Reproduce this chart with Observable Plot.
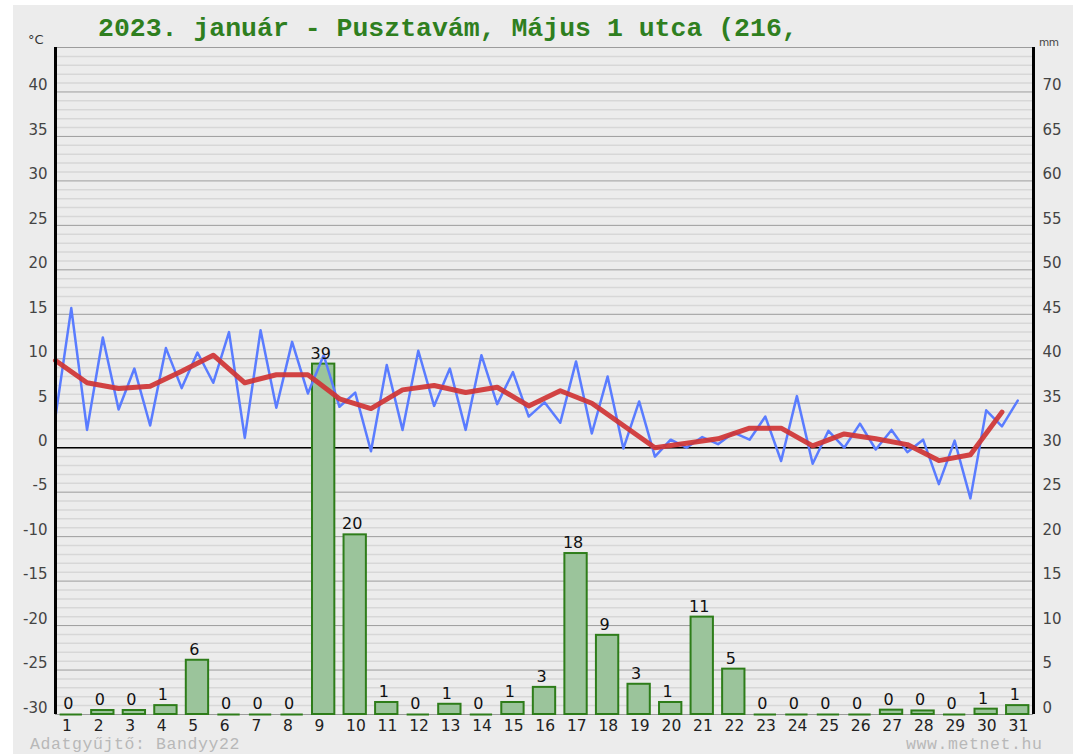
<!DOCTYPE html>
<html>
<head>
<meta charset="utf-8">
<script src="https://cdn.jsdelivr.net/npm/d3@7"></script>
<script src="https://cdn.jsdelivr.net/npm/@observablehq/plot@0.6"></script>
<style>
  html, body { margin: 0; padding: 0; background: #ffffff; width: 1080px; height: 754px; overflow: hidden; }
  #panel { position: absolute; left: 13px; top: 5px; width: 1060px; height: 749px; background: #ececec; }
  .abs { position: absolute; white-space: nowrap; }
  #title { left: 98px; top: 15.7px; font: bold 26.5px/26.5px "Liberation Mono", monospace; color: #2f7f1f; }
  #unitL { left: 28px; top: 33px; font: 13px/13px "DejaVu Sans", sans-serif; color: #333; }
  #unitR { left: 1039px; top: 37px; font: 10.5px/10.5px "DejaVu Sans", sans-serif; color: #444; letter-spacing: -0.5px; }
  #chart { position: absolute; left: 0; top: 40px; }
  .foot { top: 738.6px; height: 11px; font: 16.5px/11px "Liberation Mono", monospace; letter-spacing: 0.6px; color: #b8b8b8; }
  #footL { left: 30px; }
  #footR { left: 906px; }
</style>
</head>
<body>
<div id="panel"></div>
<div id="title" class="abs">2023. január - Pusztavám, Május 1 utca (216,</div>
<div id="unitL" class="abs">°C</div>
<div id="unitR" class="abs">mm</div>
<div id="chart"></div>
<div id="footL" class="abs foot">Adatgyűjtő: Bandyy22</div>
<div id="footR" class="abs foot">www.metnet.hu</div>
<script>
// Days of the month
const days = d3.range(1, 32);

// Daily precipitation (mm)
const precip = [0, 0.45, 0.45, 1.0, 6.1, 0, 0, 0, 39.4, 20.2,
                1.35, 0, 1.15, 0, 1.35, 3.05, 18.1, 8.9, 3.4, 1.35,
                10.95, 5.1, 0, 0, 0, 0, 0.49, 0.4, 0, 0.6, 1.0];

// Temperature readings, two per day (°C)
const tempReadings = [3.5, 15.7, 2.0, 12.4, 4.3, 8.9, 2.5, 11.2, 6.7, 10.7,
                      7.3, 13.0, 1.1, 13.2, 4.5, 11.9, 6.1, 10.4, 4.6, 6.2,
                      -0.4, 9.3, 2.0, 10.9, 4.7, 8.9, 2.0, 10.4, 4.9, 8.5,
                      3.5, 5.1, 2.8, 9.7, 1.6, 8.0, -0.1, 5.2, -1.0, 0.9,
                      0.0, 1.2, 0.4, 1.7, 0.9, 3.5, -1.5, 5.8, -1.8, 1.9,
                      0.0, 2.7, -0.2, 2.0, -0.5, 0.9, -4.1, 0.8, -5.7, 4.2,
                      2.4, 5.3];

// Daily mean temperature (°C)
const tempMean = [9.8, 7.3, 6.65, 6.9, 8.6, 10.4, 7.3, 8.2, 8.2, 5.5,
                  4.4, 6.5, 7.0, 6.2, 6.8, 4.7, 6.4, 5.0, 2.5, 0.0,
                  0.5, 1.0, 2.2, 2.2, 0.2, 1.55, 1.0, 0.35, -1.45, -0.8,
                  4.0];

// Axis ticks (°C on the left; mm on the right = °C + 30)
const yTicks = d3.range(-30, 41, 5);
const majorGrid = d3.range(-30, 46, 5);
const minorGrid = d3.range(-30, 46).filter(v => v % 5 !== 0);
const mmOffset = 30;

const precipData = days.map((d, i) => ({day: d, mm: precip[i]}));
const readings = tempReadings.map((t, i) => ({pos: i / 2, t}));
const means = tempMean.map((t, i) => ({pos: i, t}));

const barInset = 0.146;

const chart = Plot.plot({
  width: 1080,
  height: 696,
  marginLeft: 55,
  marginRight: 47,
  marginTop: 7,
  marginBottom: 22,
  x: {domain: [0, 31], axis: null},
  y: {domain: [-30, 45], axis: null},
  style: {background: "transparent", overflow: "visible", fontFamily: "DejaVu Sans, sans-serif"},
  marks: [
    Plot.ruleY(minorGrid, {stroke: "#d7d7d7", strokeWidth: 1.5}),
    Plot.ruleY(majorGrid, {stroke: "#9c9c9c", strokeWidth: 1}),
    Plot.ruleY([0], {stroke: "#000", strokeWidth: 1.5}),
    Plot.rect(precipData.filter(d => d.mm > 0), {
      x1: d => d.day - 1 + barInset, x2: d => d.day - barInset,
      y1: -mmOffset, y2: d => d.mm - mmOffset,
      fill: "#9bc49b", stroke: "#2e7d1a", strokeWidth: 2
    }),
    Plot.ruleY(precipData.filter(d => d.mm === 0), {
      x1: d => d.day - 1 + barInset, x2: d => d.day - barInset,
      y: -mmOffset, stroke: "#2e7d1a", strokeWidth: 2
    }),
    Plot.line(readings, {x: "pos", y: "t", stroke: "#5a7cff", strokeWidth: 2.5}),
    Plot.line(means, {x: "pos", y: "t", stroke: "#cf3434", strokeWidth: 5, strokeOpacity: 0.92, strokeLinejoin: "round", strokeLinecap: "round"}),
    Plot.text(precipData, {
      x: d => d.day - 0.5, y: d => d.mm - mmOffset,
      text: d => String(Math.round(d.mm)),
      textAnchor: "middle", lineAnchor: "bottom", dx: -3, dy: -5.5,
      fontSize: 16, fill: "#111"
    }),
    Plot.text(days, {
      x: d => d - 1 + barInset, y: -mmOffset,
      text: d => String(d),
      textAnchor: "start", lineAnchor: "bottom", dx: 2, dy: 16,
      fontSize: 15.5, fill: "#222"
    }),
    Plot.ruleX([0], {y1: -30, y2: 45, stroke: "#000", strokeWidth: 3}),
    Plot.ruleX([31], {y1: -30, y2: 45, stroke: "#000", strokeWidth: 3}),
    Plot.axisY({
      anchor: "left", ticks: yTicks, tickSize: 0, tickPadding: 8, label: null,
      tickFormat: d => String(d), fontSize: 15, fill: "#444", dy: -6.5
    }),
    Plot.axisY({
      anchor: "right", ticks: yTicks, tickSize: 0, tickPadding: 9, label: null,
      tickFormat: d => String(d + mmOffset), fontSize: 15, fill: "#444", dy: -6.5
    })
  ]
});

document.getElementById("chart").appendChild(chart);
</script>
</body>
</html>
